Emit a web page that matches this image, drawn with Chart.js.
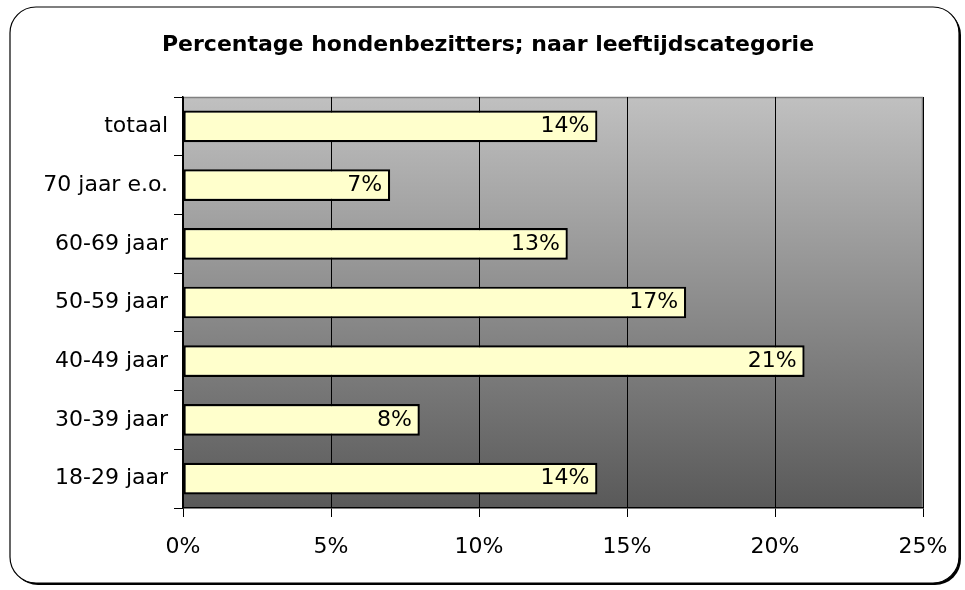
<!DOCTYPE html>
<html lang="nl">
<head>
    <meta charset="UTF-8">
    <title>Percentage hondenbezitters</title>
    <script src="https://cdn.jsdelivr.net/npm/chart.js"></script>
    <style>
        html, body { margin: 0; padding: 0; background: #ffffff; }
        #wrap { width: 965px; height: 590px; position: relative; }
    </style>
</head>
<body>
    <div id="wrap"><canvas id="dogChart"></canvas></div>

    <script>
        const chartTitle = 'Percentage hondenbezitters; naar leeftijdscategorie';
        const categories = ['totaal', '70 jaar e.o.', '60-69 jaar', '50-59 jaar', '40-49 jaar', '30-39 jaar', '18-29 jaar'];
        const percentages = [14, 7, 13, 17, 21, 8, 14];
        const xTicks = [0, 5, 10, 15, 20, 25];

        const FONT = '"DejaVu Sans", sans-serif';

        // rounded frame + title
        const framePlugin = {
            id: 'frame',
            beforeDraw(chart) {
                const ctx = chart.ctx;
                ctx.save();
                ctx.fillStyle = '#ffffff';
                ctx.fillRect(0, 0, chart.width, chart.height);
                const x = 10, y = 7, w = 949, h = 576, r = 26;
                // shadow on right/bottom
                ctx.beginPath();
                ctx.roundRect(x + 2, y + 2, w, h, r);
                ctx.fillStyle = '#000000';
                ctx.fill();
                ctx.beginPath();
                ctx.roundRect(x, y, w, h, r);
                ctx.fillStyle = '#ffffff';
                ctx.fill();
                ctx.lineWidth = 1.2;
                ctx.strokeStyle = '#000000';
                ctx.stroke();

                ctx.fillStyle = '#000000';
                ctx.font = 'bold 22px ' + FONT;
                ctx.textAlign = 'center';
                ctx.textBaseline = 'middle';
                ctx.fillText(chartTitle, 488, 45);
                ctx.restore();
            }
        };

        // gradient plot area
        const plotBgPlugin = {
            id: 'plotBg',
            beforeDraw(chart) {
                const a = chart.chartArea;
                const ctx = chart.ctx;
                ctx.save();
                const g = ctx.createLinearGradient(a.left, a.top, a.left, a.bottom);
                g.addColorStop(0, '#c0c0c0');
                g.addColorStop(1, '#595959');
                ctx.fillStyle = g;
                ctx.fillRect(a.left, a.top, a.right - a.left, a.bottom - a.top);
                ctx.strokeStyle = '#808080';
                ctx.lineWidth = 1.5;
                ctx.beginPath();
                ctx.moveTo(a.left, a.top + 0.5);
                ctx.lineTo(a.right - 0.5, a.top + 0.5);
                ctx.lineTo(a.right - 0.5, a.bottom);
                ctx.stroke();
                ctx.restore();
            }
        };

        // value labels inside bar ends
        const valueLabels = {
            id: 'valueLabels',
            afterDatasetsDraw(chart) {
                const ctx = chart.ctx;
                const meta = chart.getDatasetMeta(0);
                ctx.save();
                ctx.fillStyle = '#000000';
                ctx.font = '22px ' + FONT;
                ctx.textAlign = 'right';
                ctx.textBaseline = 'middle';
                meta.data.forEach((bar, i) => {
                    ctx.fillText(percentages[i] + '%', bar.x - 8, bar.y);
                });
                ctx.restore();
            }
        };

        new Chart(document.getElementById('dogChart'), {
            type: 'bar',
            data: {
                labels: categories,
                datasets: [{
                    data: percentages,
                    backgroundColor: '#ffffcc',
                    borderColor: '#000000',
                    borderWidth: 2.2,
                    borderSkipped: false,
                    categoryPercentage: 1,
                    barPercentage: 0.54
                }]
            },
            options: {
                indexAxis: 'y',
                responsive: true,
                maintainAspectRatio: false,
                animation: false,
                layout: { padding: { top: 97, right: 42, bottom: 0, left: 0 } },
                plugins: {
                    legend: { display: false },
                    title: { display: false },
                    tooltip: { enabled: false }
                },
                scales: {
                    x: {
                        min: 0,
                        max: 25,
                        afterBuildTicks(axis) {
                            axis.ticks = xTicks.map(v => ({ value: v }));
                        },
                        afterFit(axis) { axis.height = 82; },
                        grid: {
                            color: '#000000',
                            lineWidth: 1,
                            tickLength: 9,
                            drawOnChartArea: true
                        },
                        border: { color: '#000000', width: 1.5 },
                        ticks: {
                            color: '#000000',
                            font: { family: FONT, size: 22 },
                            padding: 17,
                            maxRotation: 0,
                            callback: v => v + '%'
                        }
                    },
                    y: {
                        afterFit(axis) { axis.width = 183; },
                        grid: {
                            color: '#000000',
                            drawOnChartArea: false,
                            tickLength: 9,
                            offset: true
                        },
                        border: { color: '#000000', width: 1.5 },
                        ticks: {
                            color: '#000000',
                            font: { family: FONT, size: 22 },
                            padding: 6
                        }
                    }
                }
            },
            plugins: [framePlugin, plotBgPlugin, valueLabels]
        });
    </script>
</body>
</html>
